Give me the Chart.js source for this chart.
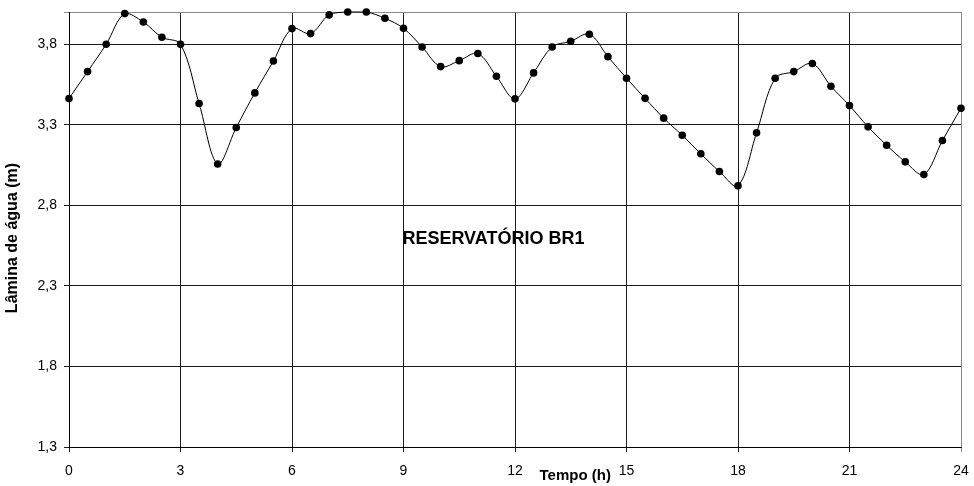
<!DOCTYPE html>
<html>
<head>
<meta charset="utf-8">
<script src="https://cdn.jsdelivr.net/npm/chart.js@4"></script>
<style>
html,body{margin:0;padding:0;background:#fff;}
canvas{display:block;}
</style>
</head>
<body>
<canvas id="chart" width="974" height="486"></canvas>
<script>
// tempo (h), de meia em meia hora
const horas = [0,0.5,1,1.5,2,2.5,3,3.5,4,4.5,5,5.5,6,6.5,7,7.5,8,8.5,9,9.5,10,10.5,11,11.5,
12,12.5,13,13.5,14,14.5,15,15.5,16,16.5,17,17.5,18,18.5,19,19.5,20,20.5,21,21.5,22,22.5,23,23.5,24];

// lamina d'agua no reservatorio (m)
const lamina = [3.463,3.630,3.800,3.990,3.938,3.843,3.800,3.432,3.057,3.283,3.498,3.696,3.897,3.866,3.982,
4.000,4.000,3.961,3.899,3.783,3.661,3.698,3.742,3.601,3.461,3.622,3.783,3.818,3.862,3.723,3.589,
3.464,3.341,3.235,3.120,3.010,2.921,3.250,3.589,3.630,3.680,3.539,3.419,3.287,3.173,3.070,2.991,3.202,3.403];

const xTicks = [0,3,6,9,12,15,18,21,24];
const yTicks = [1.3,1.8,2.3,2.8,3.3,3.8,4.0];

const titulo = "RESERVATÓRIO BR1";
const tituloX = "Tempo (h)";
const tituloY = "Lâmina de água (m)";

const fonte = '"Liberation Sans", Arial, sans-serif';

// textos soltos: titulo no meio do grafico e nomes dos eixos
const textos = {
id: "textos",
afterDraw(chart){
const ctx = chart.ctx;
const a = chart.chartArea;
const sx = chart.scales.x, sy = chart.scales.y;
ctx.save();
ctx.fillStyle = "#000";
ctx.textAlign = "center";
ctx.textBaseline = "middle";

ctx.font = "bold 18px " + fonte;
ctx.fillText(titulo, sx.getPixelForValue(11.42), sy.getPixelForValue(2.59));

ctx.font = "bold 15px " + fonte;
ctx.fillText(tituloX, sx.getPixelForValue(13.62), a.bottom + 29);

ctx.font = "bold 16px " + fonte;
ctx.translate(13, 238);
ctx.rotate(-Math.PI / 2);
ctx.fillText(tituloY, 0, 0);
ctx.restore();
}
};

const gridCor = (ctx, borda) => ctx.tick && ctx.tick.value === borda ? "#8a8a8a" : "#1a1a1a";

new Chart(document.getElementById("chart").getContext("2d"), {
type: "line",
data: {
datasets: [{
data: horas.map((h, i) => ({ x: h, y: lamina[i] })),
borderColor: "#000",
borderWidth: 1,
backgroundColor: "#000",
pointRadius: 3.8,
pointBorderWidth: 0,
tension: 0.35,
clip: false
}]
},
options: {
responsive: false,
animation: false,
devicePixelRatio: 1,
layout: { padding: { top: 12, right: 13, left: 0, bottom: 0 } },
plugins: { legend: { display: false }, tooltip: { enabled: false } },
scales: {
x: {
type: "linear",
min: 0, max: 24,
afterBuildTicks: s => { s.ticks = xTicks.map(v => ({ value: v })); },
afterFit: s => { s.height = 39; s.paddingLeft = 0; s.paddingRight = 0; },
grid: { color: c => gridCor(c, 24), lineWidth: 1, tickLength: 5 },
border: { color: "#000" },
ticks: { color: "#000", font: { family: fonte, size: 14 }, padding: 11, maxRotation: 0 }
},
y: {
min: 1.3, max: 4.0,
afterBuildTicks: s => { s.ticks = yTicks.map(v => ({ value: v })); },
afterFit: s => { s.width = 69; s.paddingTop = 0; s.paddingBottom = 0; },
grid: { color: c => gridCor(c, 4.0), lineWidth: 1, tickLength: 5 },
border: { color: "#000" },
ticks: {
color: "#000", font: { family: fonte, size: 14 }, padding: 7,
callback: v => v === 4.0 ? "" : v.toFixed(1).replace(".", ",")
}
}
}
},
plugins: [textos]
});
</script>
</body>
</html>
